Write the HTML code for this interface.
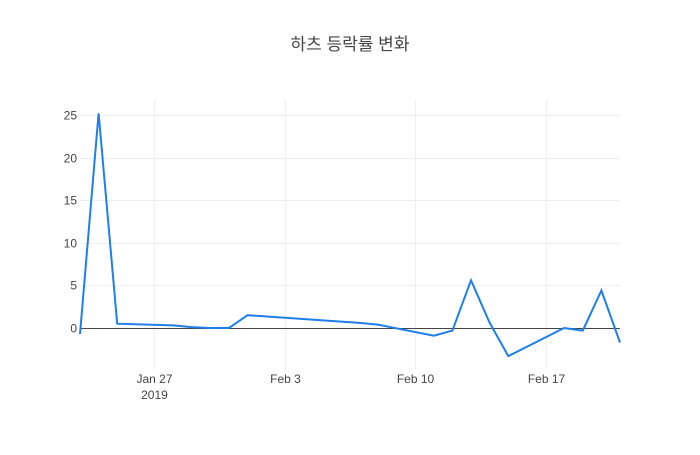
<!DOCTYPE html>
<html><head><meta charset="utf-8"><style>
body{margin:0;background:#fff;}
svg text{font-family:"Liberation Sans","Noto Sans CJK KR",sans-serif;fill:#444;}
</style></head><body>
<svg width="700" height="450" xmlns="http://www.w3.org/2000/svg">
<text x="350" y="50" text-anchor="middle" font-size="17">하츠 등락률 변화</text>
<g id="grid"></g>
<g id="axes"></g>
<path id="line" fill="none" stroke="#1f7fe8" stroke-width="2"/>
</svg>
<script>
const dates=["2019-01-23","2019-01-24","2019-01-25","2019-01-28","2019-01-29","2019-01-30","2019-01-31","2019-02-01","2019-02-07","2019-02-08","2019-02-11","2019-02-12","2019-02-13","2019-02-14","2019-02-15","2019-02-18","2019-02-19","2019-02-20","2019-02-21"];
const values=[-0.7,25.2,0.5,0.3,0.1,0,0,1.5,0.6,0.4,-0.9,-0.3,5.6,0.6,-3.3,0,-0.3,4.4,-1.7];
const yTicks=[0,5,10,15,20,25];
const xTickDates=["2019-01-27","2019-02-03","2019-02-10","2019-02-17"];
const xTickLabels=["Jan 27","Feb 3","Feb 10","Feb 17"];
const L=80,R=620,T=100,B=370;
const t0=Date.parse("2019-01-23"),t1=Date.parse("2019-02-21");
const y0=-4.93,y1=26.76;
const xs=d=>L+(Date.parse(d)-t0)/(t1-t0)*(R-L);
const ys=v=>B-(v-y0)/(y1-y0)*(B-T);
const NS="http://www.w3.org/2000/svg";
const grid=document.getElementById('grid'),axes=document.getElementById('axes');
function mk(tag,attrs,parent){const e=document.createElementNS(NS,tag);for(const k in attrs)e.setAttribute(k,attrs[k]);parent.appendChild(e);return e;}
yTicks.forEach(v=>{
  const y=Math.round(ys(v))+0.5;
  const g=mk('line',{x1:L,x2:R,y1:y,y2:y,stroke:v===0?'#444':'#eee','stroke-width':1},v===0?axes:grid);
  
  
  const t=mk('text',{x:L-3,y:y+4,'text-anchor':'end','font-size':12},axes);
  t.textContent=v;
  
  
});
xTickDates.forEach((d,i)=>{
  const x=Math.round(xs(d))+0.5;
  const g=mk('line',{x1:x,x2:x,y1:T,y2:B,stroke:'#eee','stroke-width':1},grid);
  
  
  const t=mk('text',{x:x,y:383,'text-anchor':'middle','font-size':12},axes);
  t.textContent=xTickLabels[i];
  
  
});
const yr=mk('text',{x:xs(xTickDates[0]),y:399,'text-anchor':'middle','font-size':12},axes);
yr.textContent="2019";


document.getElementById('line').setAttribute('d',dates.map((d,i)=>(i?'L':'M')+xs(d).toFixed(1)+','+ys(values[i]).toFixed(1)).join(''));
</script>
</body></html>
